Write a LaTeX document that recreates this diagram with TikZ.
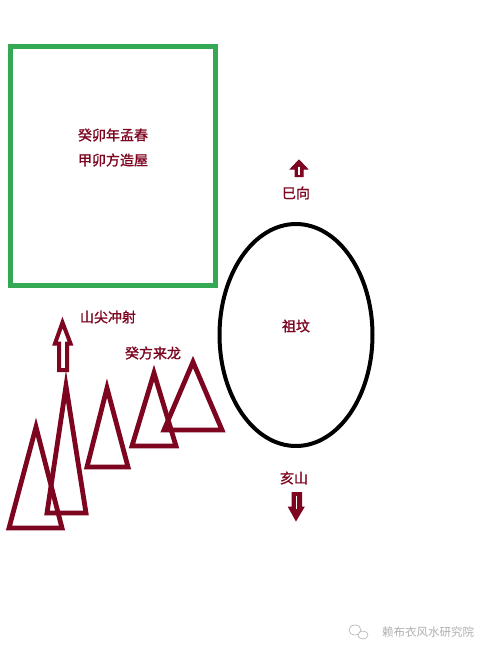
\documentclass[tikz,border=0pt]{standalone}
\usepackage{fontspec}
\newfontfamily\cjk[FakeBold=1.2]{Noto Sans CJK SC}
\newfontfamily\cjkl{Noto Sans CJK SC}
\definecolor{dred}{RGB}{125,5,32}
\definecolor{gbox}{RGB}{52,168,83}
\definecolor{wm}{RGB}{175,175,175}
\tikzset{
  lbl/.style={font=\cjk\fontsize{14}{16}\selectfont, text=dred, inner sep=0pt},
  tri/.style={draw=dred, line width=4.8pt, line join=miter},
  blockarrow/.style={draw=dred, fill=white, line join=miter},
  solidarrow/.style={draw=dred, fill=dred, line width=1pt, line join=miter},
  slit/.style={draw=white, line width=1.2pt},
}
\begin{document}
\begin{tikzpicture}[x=1pt,y=-1pt]
\useasboundingbox[fill=white] (0,0) rectangle (490,654);
% house box
\draw[gbox, line width=5pt] (10.5,46.5) rectangle (215.5,285.5);
\node[lbl] (t1) at (113,135) {癸卯年孟春};
\node[lbl] (t2) at (113,160) {甲卯方造屋};
% tomb
\draw[black, line width=4pt] (296,335) ellipse [x radius=76.5, y radius=111];
\node[lbl] (tomb) at (296,326) {祖坟};
\node[lbl] (si) at (296,193) {巳向};
\node[lbl] (hai) at (294,478) {亥山};
% small up arrow
\draw[solidarrow] (299,160) -- (307.5,169) -- (303,169) -- (303,176.5) -- (295,176.5) -- (295,169) -- (290.5,169) -- cycle;
\draw[slit] (299,166.5) -- (299,174.5);
% small down arrow
\draw[solidarrow] (296,520.5) -- (304,507) -- (301.5,507) -- (301.5,492.5) -- (292,492.5) -- (292,507) -- (288.5,507) -- cycle;
\draw[slit] (296.5,495.5) -- (296.5,509);
% mountain arrow
\draw[blockarrow, line width=4pt] (62.5,322.5) -- (70.5,343.5) -- (67,343.5) -- (67,370) -- (59,370) -- (59,343.5) -- (55,343.5) -- cycle;
\node[lbl] (shan) at (108,317) {山尖冲射};
\node[lbl] (long) at (153,353) {癸方来龙};
% mountains
\draw[tri] (36,427) -- (62,528) -- (9,528) -- cycle;
\draw[tri] (66,386) -- (86,513) -- (47,513) -- cycle;
\draw[tri] (107,388) -- (128,467) -- (87,467) -- cycle;
\draw[tri] (154,373) -- (176,446) -- (132,446) -- cycle;
\draw[tri] (193,362) -- (222,430) -- (164,430) -- cycle;
% watermark
\draw[wm, line width=0.6pt] (355,630) ellipse [x radius=6, y radius=5];
\draw[wm, line width=0.6pt, fill=white] (363,635) ellipse [x radius=5, y radius=4];
\node[font=\cjkl\fontsize{11.5}{13}\selectfont, text=wm, inner sep=0pt] (wmk) at (428,632) {赖布衣风水研究院};
\end{tikzpicture}
\end{document}
